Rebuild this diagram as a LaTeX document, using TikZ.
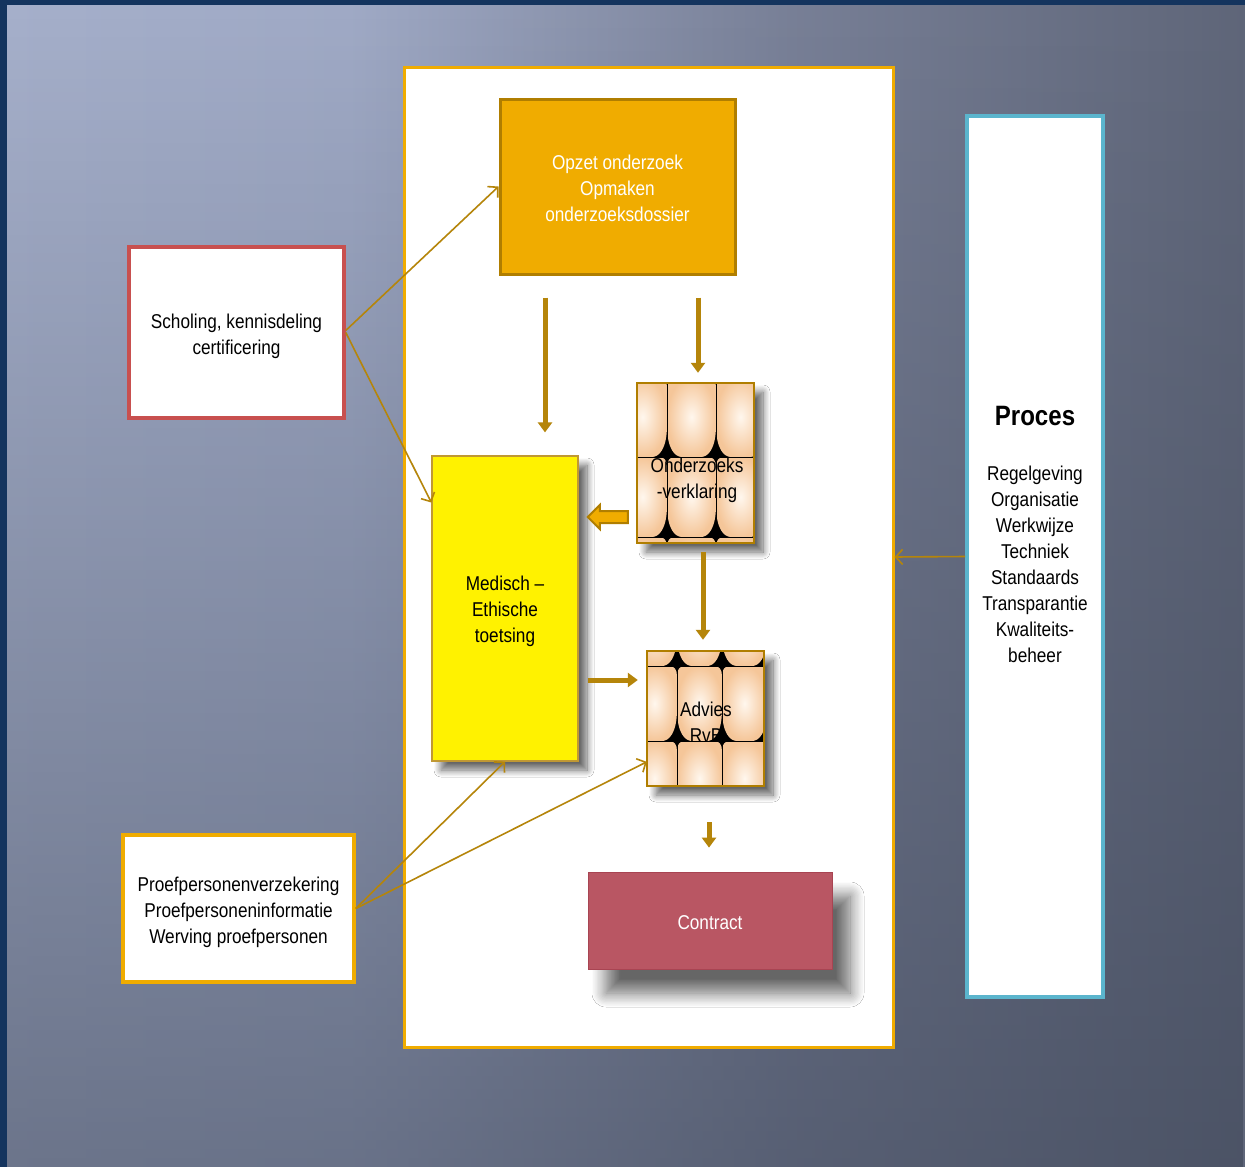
\documentclass[tikz,border=0pt]{standalone}
\usepackage{fontspec}
\setmainfont{Liberation Sans}[FakeStretch=0.86]
\usetikzlibrary{arrows.meta,shadows.blur,fadings,calc}
\definecolor{navy}{HTML}{14345E}
\definecolor{bgD}{HTML}{3C4456}
\definecolor{orangeF}{HTML}{F0AC00}
\definecolor{orangeD}{HTML}{B07E00}
\definecolor{arrowc}{HTML}{B5850A}
\definecolor{redB}{HTML}{C8504F}
\definecolor{tealB}{HTML}{5BB5CD}
\definecolor{contractF}{HTML}{B95663}
\definecolor{contractD}{HTML}{A84452}
\definecolor{peachO}{HTML}{F5C699}
\definecolor{peachI}{HTML}{FFF7EE}
\pgfdeclarehorizontalshading{bgshade}{100bp}{
  rgb(0bp)=(0.651,0.690,0.796);
  rgb(25bp)=(0.651,0.690,0.796);
  rgb(39bp)=(0.627,0.667,0.776);
  rgb(57bp)=(0.470,0.500,0.590);
  rgb(75bp)=(0.373,0.400,0.475);
  rgb(100bp)=(0.373,0.400,0.475)}
\tikzfading[name=fadebottom, top color=transparent!100, middle color=transparent!100, bottom color=transparent!0]
\tikzset{
  box/.style={inner sep=0pt, align=center, font=\fontsize{20}{26}\selectfont},
  lbl/.style={inner sep=0pt, align=center, font=\fontsize{20}{26}\selectfont},
  shad/.style={blur shadow={shadow xshift=9pt, shadow yshift=-9pt, shadow opacity=60, shadow blur radius=7pt, shadow blur steps=10}},
  bigshad/.style={blur shadow={shadow xshift=18pt, shadow yshift=-24pt, shadow opacity=60, shadow blur radius=14pt, shadow blur steps=12}},
  thickarrow/.style={draw=arrowc, line width=5pt, -{Triangle[width=14pt,length=10pt]}},
  thinarrow/.style={draw=arrowc, line width=1.6pt, -{Straight Barb[length=7pt,width=15pt]}},
}
\newcommand\tilebox[8]{%
  \begin{scope}
    \clip (#1,#2) rectangle (#3,#4);
    \fill[black] (#1,#2) rectangle (#3,#4);
    \foreach \i in {0,...,3}{
      \foreach \j in {0,...,2}{
        \pgfmathsetmacro\xa{#5+\i*#7}
        \pgfmathsetmacro\ya{#6+\j*#8}
        \pgfmathsetmacro\xb{\xa+#7}
        \pgfmathsetmacro\yb{\ya+#8}
        \shade[inner color=peachI, outer color=peachO]
          (\xa,\ya+10) .. controls (\xa,\ya+3) and (\xa+3,\ya) .. (\xa+8,\ya) -- (\xb-8,\ya)
          .. controls (\xb-3,\ya) and (\xb,\ya+3) .. (\xb,\ya+10)
          -- (\xb,\yb-32) .. controls (\xb,\yb-8) and (\xb-8,\yb) .. (\xb-15,\yb)
          -- (\xa+15,\yb) .. controls (\xa+8,\yb) and (\xa,\yb-8) .. (\xa,\yb-32) -- cycle;
      }
    }
    \foreach \i in {1,2,3}{\draw[black, line width=0.9pt] (#5+\i*#7,#2) -- (#5+\i*#7,#4);}
    \foreach \j in {1,2,3}{\draw[black, line width=0.9pt] (#1,#6+\j*#8) -- (#3,#6+\j*#8);}
  \end{scope}}
\begin{document}
\begin{tikzpicture}[x=1pt,y=-1pt]
\useasboundingbox (0,0) rectangle (1245,1167);
% background
\shade[shading=bgshade] (0,0) rectangle (1245,1167);
\fill[bgD, path fading=fadebottom, opacity=0.55] (0,0) rectangle (1245,1167);
\fill[navy] (0,0) rectangle (7,1167);
\fill[navy] (0,0) rectangle (1245,5);

% main white panel
\node[box, draw=orangeF, line width=3pt, fill=white, minimum width=489pt, minimum height=980pt] (panel) at (648.5,557) {};

% boxes
\node[box, draw=orangeD, line width=3pt, fill=orangeF, minimum width=235pt, minimum height=175pt,
  label={[lbl, text=white, yshift=-2pt]center:Opzet onderzoek\\Opmaken\\onderzoeksdossier}] (opzet) at (617.5,186.5) {};

\node[box, draw=redB, line width=3.5pt, fill=white, minimum width=215pt, minimum height=171pt,
  label={[lbl, yshift=-4pt]center:Scholing, kennisdeling\\certificering}] (scholing) at (236.5,332.5) {};

\node[box, shad, draw=orangeD!80, line width=1.2pt, fill=yellow, minimum width=146pt, minimum height=305pt,
  label={[lbl, yshift=-3pt]center:Medisch --\\Ethische\\toetsing}] (medisch) at (505,608.5) {};

\node[box, shad, fill=peachO, minimum width=117pt, minimum height=160pt] (onder) at (695.5,463) {};
\tilebox{637}{383}{754}{543}{618}{377}{49}{80}
\draw[orangeD, line width=1.5pt] (onder.north west) rectangle (onder.south east);
\node[lbl] (ondertext) at (697,480) {Onderzoeks\\-verklaring};

\node[box, shad, fill=peachO, minimum width=117pt, minimum height=135pt] (advies) at (705.5,718.5) {};
\tilebox{647}{651}{764}{786}{632}{591}{45}{75}
\draw[orangeD, line width=1.5pt] (advies.north west) rectangle (advies.south east);
\node[lbl] (adviestext) at (706,722) {Advies\\RvB};

\node[box, bigshad, draw=contractD, line width=0.8pt, fill=contractF, minimum width=244pt, minimum height=97pt,
  label={[lbl, text=white, yshift=-2pt]center:Contract}] (contract) at (710,920.5) {};

\node[box, draw=orangeF, line width=3.5pt, fill=white, minimum width=231pt, minimum height=147pt,
  label={[lbl, yshift=-4pt]center:Proefpersonenverzekering\\Proefpersoneninformatie\\Werving proefpersonen}] (proef) at (238.5,908.5) {};

\node[box, draw=tealB, line width=4pt, fill=white, minimum width=136pt, minimum height=881pt] (proces) at (1035,556.5) {};
\node[lbl, font=\fontsize{28}{32}\selectfont\bfseries] (procestitle) at (1035,416) {Proces};
\node[lbl] (proceslist) at (1035,564) {Regelgeving\\Organisatie\\Werkwijze\\Techniek\\Standaards\\Transparantie\\Kwaliteits-\\beheer};

% thick arrows
\draw[thickarrow] ([xshift=-72.5pt,yshift=-22pt]opzet.south) -- ([xshift=40pt,yshift=23pt]medisch.north);
\draw[thickarrow] ([xshift=80.5pt,yshift=-22pt]opzet.south) -- ([xshift=2.5pt,yshift=10pt]onder.north);
\draw[thickarrow] ([xshift=7.5pt,yshift=-9pt]onder.south) -- ([xshift=-2.5pt,yshift=11pt]advies.north);
\draw[thickarrow] ([xshift=9pt,yshift=-71.5pt]medisch.east) -- ([xshift=-9pt,yshift=38.5pt]advies.west);
\draw[thickarrow] ([xshift=3.5pt,yshift=-36pt]advies.south) -- ([xshift=-1pt,yshift=24pt]contract.north);

% hollow block arrow pointing left
\draw[fill=orangeF, draw=orangeD, line width=2pt, line join=miter]
  ([xshift=-9pt,yshift=-48pt]onder.west) -- ++(-28,0) -- ++(0,-6) -- ++(-12,12) -- ++(12,12) -- ++(0,-6) -- ++(28,0) -- cycle;

% thin arrows
\draw[thinarrow] ([yshift=2pt]scholing.east) -- (opzet.west);
\draw[thinarrow] (scholing.east) -- ($(medisch.north west)!0.154!(medisch.south west)$);
\draw[thinarrow] (proef.east) -- (medisch.south);
\draw[thinarrow] (proef.east) -- ($(advies.north west)!0.82!(advies.south west)$);
\draw[thinarrow] (proces.west) -- (panel.east);
\end{tikzpicture}
\end{document}
